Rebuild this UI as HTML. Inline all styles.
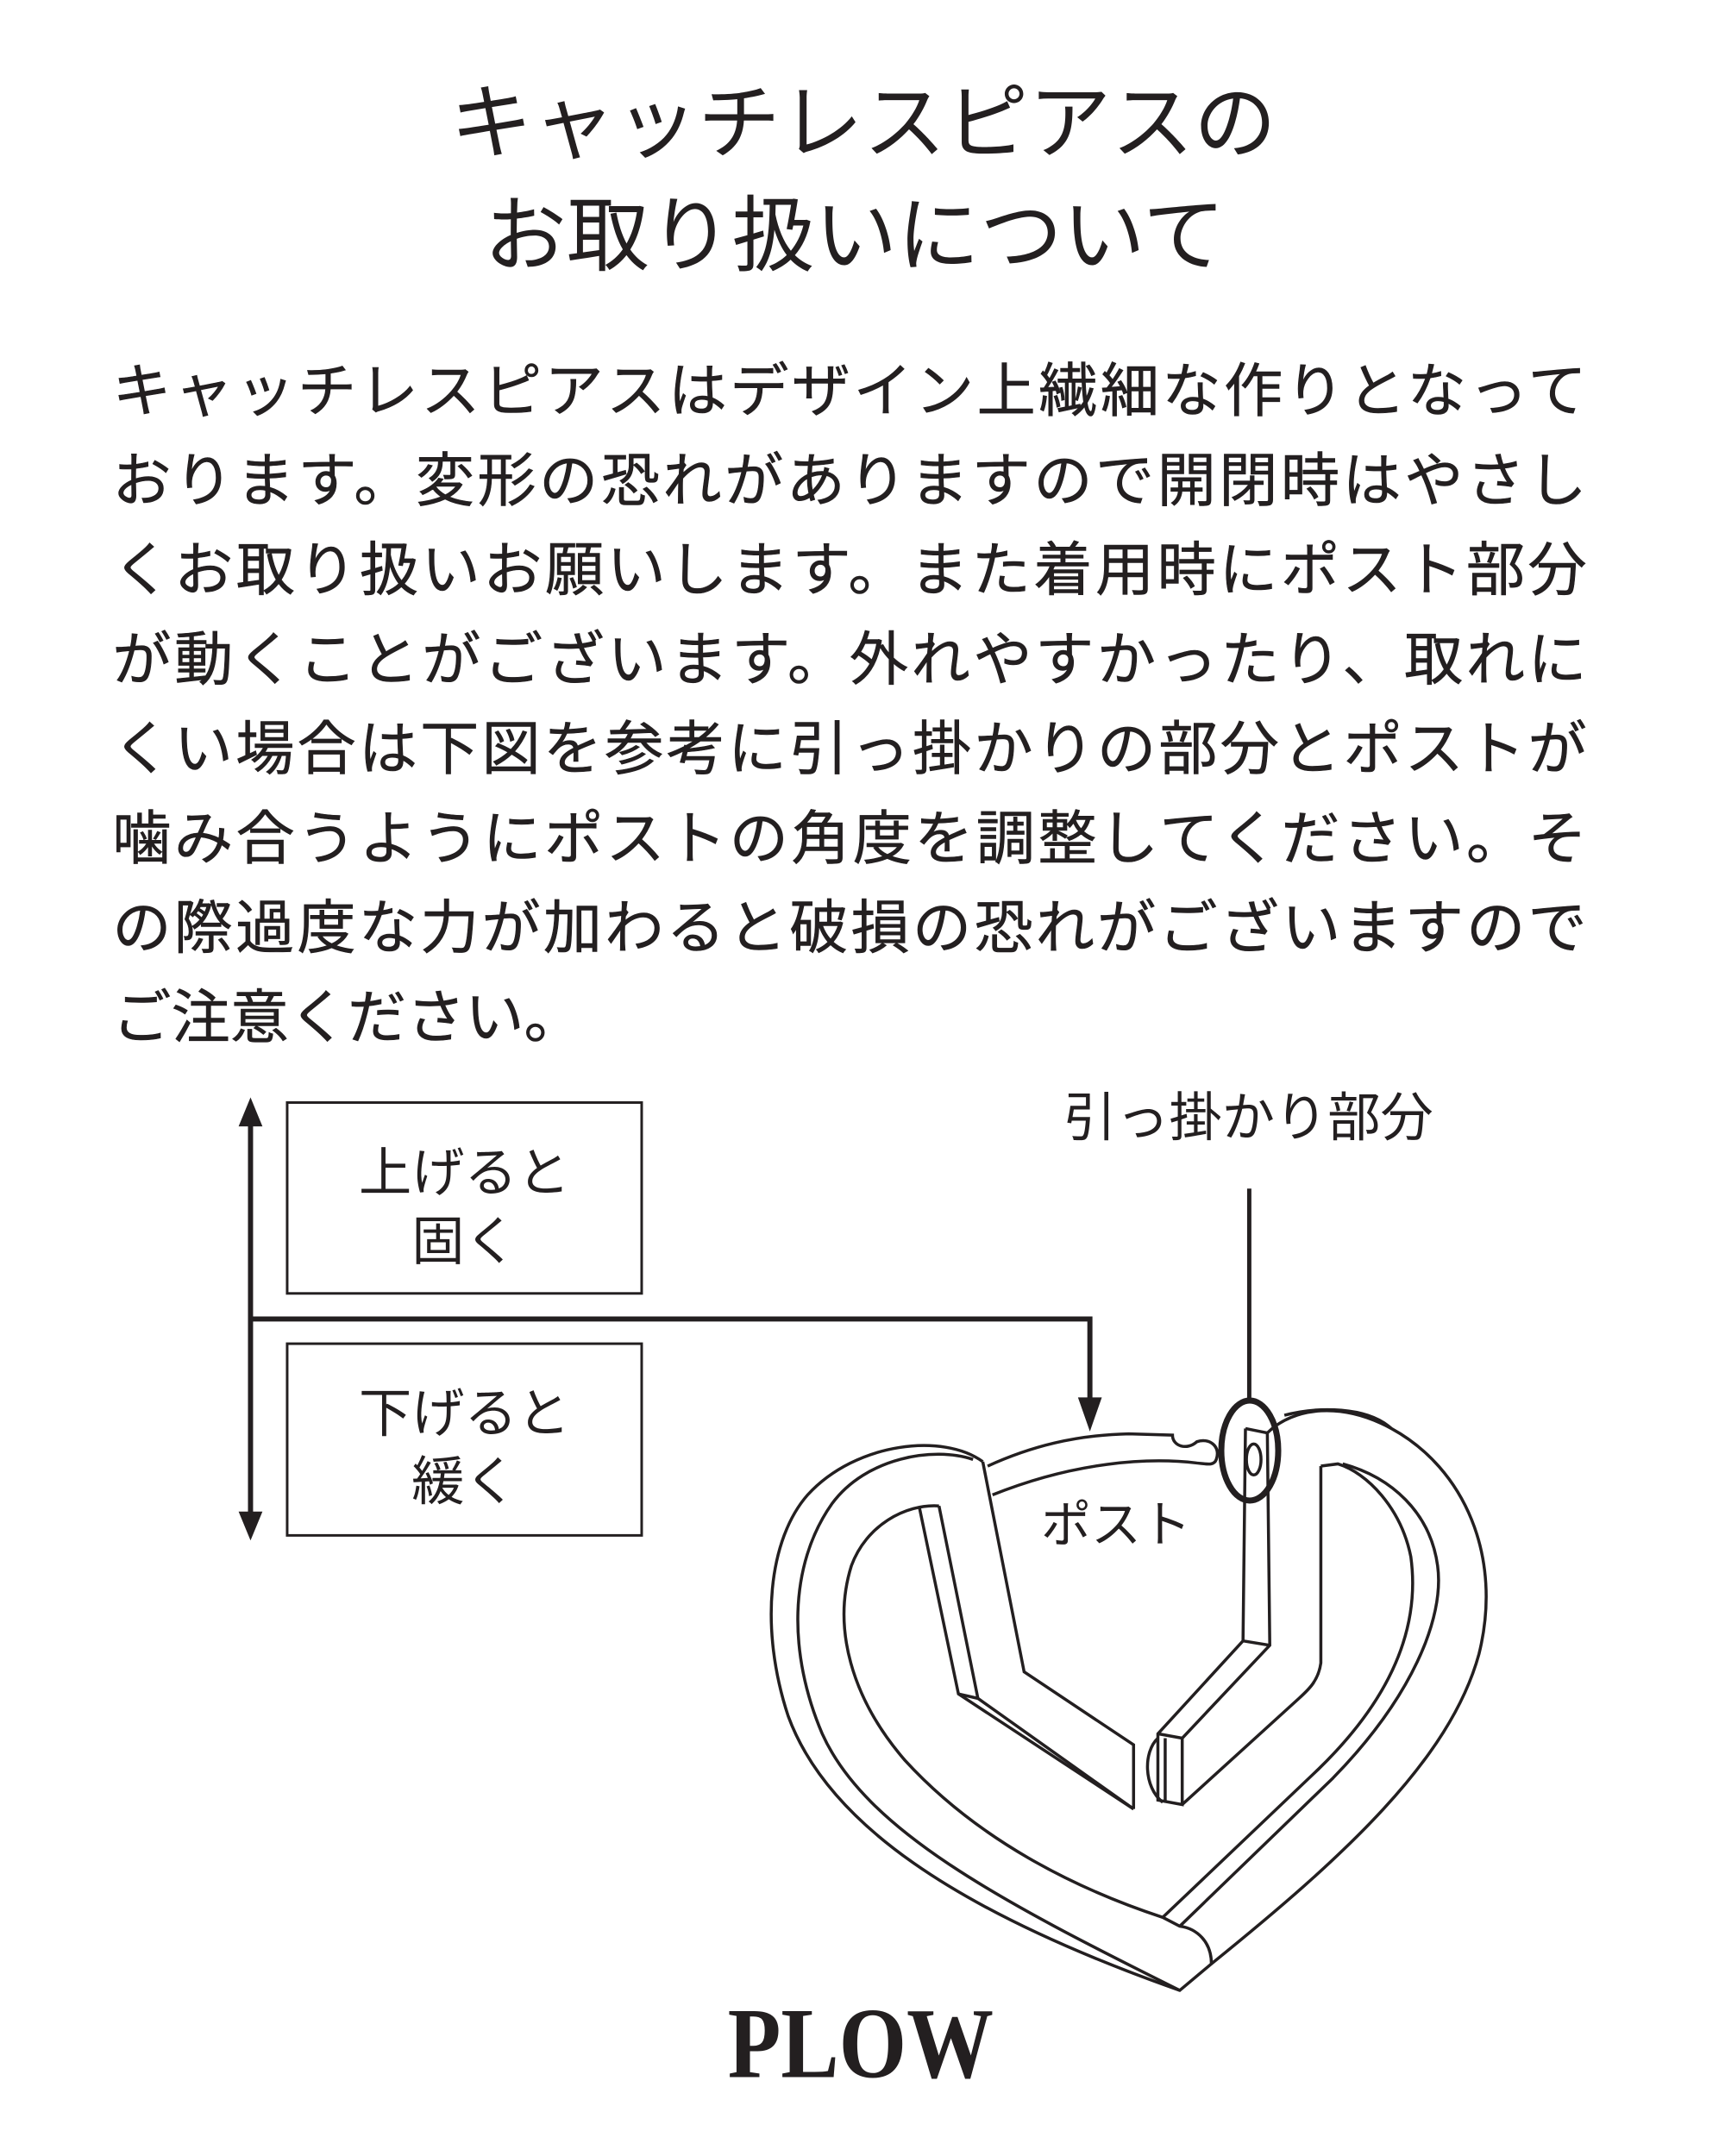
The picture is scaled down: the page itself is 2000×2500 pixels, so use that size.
<!DOCTYPE html>
<html><head><meta charset="utf-8"><style>
html,body{margin:0;padding:0;background:#fff;}
svg{display:block}
</style></head><body>
<svg width="2000" height="2500" viewBox="0 0 2000 2500" xmlns="http://www.w3.org/2000/svg" font-family="'Liberation Sans','Noto Sans CJK JP',sans-serif" fill="#231f20">
<g transform="scale(0.988)">
<g font-size="97" text-anchor="middle">
<text x="1013" y="178">キャッチレスピアスの</text>
<text x="1003" y="310">お取り扱いについて</text>
</g>
<g font-size="69" text-anchor="start" stroke="#231f20" stroke-width="0.6">
<text x="132" y="483" textLength="1730">キャッチレスピアスはデザイン上繊細な作りとなって</text>
<text x="132" y="588" textLength="1730">おります。変形の恐れがありますので開閉時はやさし</text>
<text x="132" y="693" textLength="1730">くお取り扱いお願いします。また着用時にポスト部分</text>
<text x="132" y="798" textLength="1730">が動くことがございます。外れやすかったり、取れに</text>
<text x="132" y="903" textLength="1730">くい場合は下図を参考に引っ掛かりの部分とポストが</text>
<text x="132" y="1008" textLength="1730">噛み合うようにポストの角度を調整してください。そ</text>
<text x="132" y="1113" textLength="1730">の際過度な力が加わると破損の恐れがございますので</text>
<text x="132" y="1218">ご注意ください。</text>
</g>
<rect x="337" y="1294" width="416" height="224" fill="none" stroke="#231f20" stroke-width="3"/>
<rect x="337" y="1577" width="416" height="225" fill="none" stroke="#231f20" stroke-width="3"/>
<g font-size="62" text-anchor="middle">
<text x="545" y="1398">上げると</text>
<text x="545" y="1478">固く</text>
<text x="545" y="1680">下げると</text>
<text x="545" y="1760">緩く</text>
<text x="1465" y="1333">引っ掛かり部分</text>
</g>
<g stroke="#231f20" stroke-width="6" fill="none">
<line x1="294" y1="1310" x2="294" y2="1786"/>
<polyline points="294,1548 1279,1548 1279,1650"/>
<line x1="1466" y1="1395" x2="1466" y2="1645" stroke-width="5"/>
</g>
<polygon points="294,1288 280,1322 308,1322"/>
<polygon points="294,1808 280,1774 308,1774"/>
<polygon points="1279,1680 1265,1640 1293,1640"/>
<text x="1010" y="2438" text-anchor="middle" font-family="'Liberation Serif',serif" font-weight="bold" font-size="118" textLength="312" lengthAdjust="spacingAndGlyphs">PLOW</text>
</g>
<text x="1294" y="1788" font-size="58" text-anchor="middle">ポスト</text>
<ellipse cx="1449" cy="1682" rx="33" ry="58" stroke-width="7" fill="none" stroke="#231f20"/>
<g transform="translate(880,1600) scale(0.564,0.513)" fill="none" stroke="#231f20" stroke-width="3.5">
<path vector-effect="non-scaling-stroke" d="M460,185 C380,120 200,140 100,260 C20,360 0,560 60,760 C140,1000 400,1200 865,1380 L930,1320 C1200,1080 1420,860 1480,620 C1530,400 1450,200 1300,110 C1200,50 1100,60 1045,120"/>
<path vector-effect="non-scaling-stroke" d="M440,180 C360,150 220,175 150,280 C60,420 60,620 130,800 C220,1020 500,1180 865,1380"/>
<path vector-effect="non-scaling-stroke" d="M370,285 C300,280 220,330 190,420 C150,560 190,720 300,860 C450,1040 650,1150 830,1215 L865,1235 C900,1240 930,1270 930,1320"/>
<path vector-effect="non-scaling-stroke" d="M830,1215 L1150,880 C1300,720 1360,560 1340,400 C1320,290 1250,210 1190,190 L1155,195"/>
<path vector-effect="non-scaling-stroke" d="M865,1235 L1180,900 C1340,720 1410,540 1395,420 C1380,300 1300,220 1200,190"/>
<path vector-effect="non-scaling-stroke" d="M1080,80 C1150,60 1250,60 1300,110"/>
<path vector-effect="non-scaling-stroke" d="M460,185 L545,660 L770,825 L770,970"/>
<path vector-effect="non-scaling-stroke" d="M370,285 L450,720 L770,970"/>
<path vector-effect="non-scaling-stroke" d="M330,290 L410,710 L770,970"/>
<path vector-effect="non-scaling-stroke" d="M410,710 L450,720"/>
<path vector-effect="non-scaling-stroke" d="M1155,195 L1155,640 C1150,680 1130,700 1110,720 L870,960"/>
<path vector-effect="non-scaling-stroke" d="M1000,110 L995,590 L820,800 L820,950 L870,960 L870,810 L1050,600 L1045,120"/>
<path vector-effect="non-scaling-stroke" d="M995,590 L1050,600 M820,800 L870,810 M1000,110 L1045,120"/>
<path vector-effect="non-scaling-stroke" d="M820,810 C790,840 790,920 830,955 M835,810 L835,955"/>
<path vector-effect="non-scaling-stroke" d="M470,195 C560,150 650,125 760,122 L850,125 C850,150 880,160 900,140 C925,130 950,150 940,180 C935,195 920,190 900,188 C800,175 650,185 480,260"/>
<ellipse vector-effect="non-scaling-stroke" cx="1017" cy="180" rx="15" ry="35"/>
</g>
</svg>
</body></html>
